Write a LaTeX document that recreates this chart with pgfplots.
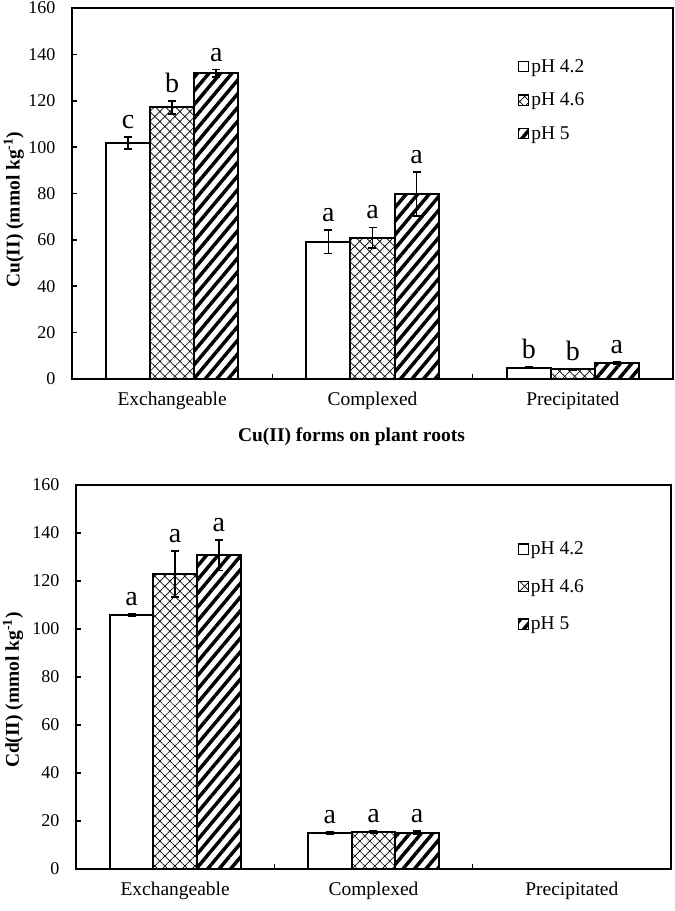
\documentclass[border=0pt]{standalone}
\usepackage{fontspec}
\setmainfont{Liberation Serif}
\usepackage{pgfplots}
\usepackage{pgfplotstable}
\pgfplotsset{compat=1.18}
\usetikzlibrary{patterns.meta}

% x = category (0 Exchangeable, 1 Complexed, 2 Precipitated), e = error, l = letter
\pgfplotstableread{
x y e l
0 101.8 2.5 c
1 59.2 5.0 a
2 4.9 0.3 b
}\cuA
\pgfplotstableread{
x y e l
0 117.1 2.8 b
1 60.9 4.5 a
2 4.2 0.3 b
}\cuB
\pgfplotstableread{
x y e l
0 131.8 1.6 a
1 79.8 9.5 a
2 7.0 0.5 a
}\cuC
\pgfplotstableread{
x y e l
0 105.8 0.5 a
1 14.9 0.5 a
}\cdA
\pgfplotstableread{
x y e l
0 122.9 9.6 a
1 15.5 0.4 a
}\cdB
\pgfplotstableread{
x y e l
0 130.7 6.4 a
1 15.2 0.6 a
}\cdC

\pgfplotsset{
  panel/.style={
    scale only axis,
    xmin=-0.5, xmax=2.5, ymin=0, ymax=160,
    ytick={0,20,...,160},
    xtick={0,1,2},
    xticklabels={Exchangeable,Complexed,Precipitated},
    minor xtick={0.5,1.5},
    major x tick style={draw=none},
    tick align=inside,
    major tick length=4pt, minor tick length=4pt,
    xtick pos=bottom, ytick pos=left,
    axis line style={line width=1.5pt},
    tick style={line width=1.2pt, black},
    /pgf/number format/assume math mode=true,
    yticklabel style={font=\fontsize{13.5}{15}\selectfont, xshift=-9pt},
    xticklabel style={font=\fontsize{14.6}{16}\selectfont, yshift=-6pt},
    legend cell align=left,
    legend style={draw=none, fill=none, at={(0.735,0.87)}, anchor=north west,
      row sep=14pt, font=\fontsize{14.6}{16}\selectfont,
      nodes={inner xsep=1.5pt, inner ysep=0pt}},
  },
  mybar/.style={
    ybar, bar width=0.22, bar shift=0pt, draw=black, line width=1.5pt, mark=none,
    error bars/.cd, y dir=both, y explicit,
    error bar style={line width=1.2pt, black},
    error mark options={rotate=90, mark size=3pt, line width=1.2pt, black},
    /pgfplots/.cd,
    legend image code/.code={\draw[##1, line width=1pt] (0pt,-3.8pt) rectangle (7.5pt,3.8pt);},
  },
  letters/.style={
    draw=none, mark=none, forget plot,
    nodes near coords, point meta=explicit symbolic,
    nodes near coords style={anchor=south, inner sep=2pt, yshift=4pt, black,
      font=\fontsize{21}{23}\selectfont},
  },
  fillA/.style={fill=white},
  fillB/.style={pattern={Hatch[angle=45,distance=5.3pt,line width=0.5pt]}},
  fillC/.style={pattern={Lines[angle=50,distance=6.6pt,line width=2.6pt]}},
}

\begin{document}
\begin{tikzpicture}
\useasboundingbox (0,0) rectangle (506.25pt,683.25pt);

% ---- Cu(II) ----
\begin{axis}[panel,
  at={(54pt,399pt)}, anchor=south west,
  width=450.75pt, height=278.25pt,
  xlabel={\bfseries Cu(II) forms on plant roots},
  xlabel style={at={(axis description cs:0.465,0)}, anchor=center, yshift=-43.5pt,
    font=\fontsize{14.6}{16}\selectfont},
  ylabel={\bfseries Cu(II) (mmol kg\textsuperscript{-1})},
  ylabel style={at={(axis description cs:-0.097,0.457)}, anchor=center,
    font=\fontsize{14.6}{16}\selectfont},
]
\addplot[mybar, fillA] table[x expr=\thisrow{x}-0.22, y=y, y error=e] {\cuA};
\addplot[mybar, fillB] table[x expr=\thisrow{x}, y=y, y error=e] {\cuB};
\addplot[mybar, fillC] table[x expr=\thisrow{x}+0.22, y=y, y error=e] {\cuC};
\addplot[letters] table[x expr=\thisrow{x}-0.22, y expr=\thisrow{y}+\thisrow{e}, meta=l] {\cuA};
\addplot[letters] table[x expr=\thisrow{x}, y expr=\thisrow{y}+\thisrow{e}, meta=l] {\cuB};
\addplot[letters] table[x expr=\thisrow{x}+0.22, y expr=\thisrow{y}+\thisrow{e}, meta=l] {\cuC};
\legend{pH 4.2, pH 4.6, pH 5}
\end{axis}

% ---- Cd(II) ----
\begin{axis}[panel,
  at={(57pt,31.5pt)}, anchor=south west,
  width=446.25pt, height=288pt,
  ylabel={\bfseries Cd(II) (mmol kg\textsuperscript{-1})},
  ylabel style={at={(axis description cs:-0.106,0.466)}, anchor=center,
    font=\fontsize{14.6}{16}\selectfont},
  legend style={at={(0.735,0.86)}, row sep=17pt},
]
\addplot[mybar, fillA] table[x expr=\thisrow{x}-0.22, y=y, y error=e] {\cdA};
\addplot[mybar, fillB] table[x expr=\thisrow{x}, y=y, y error=e] {\cdB};
\addplot[mybar, fillC] table[x expr=\thisrow{x}+0.22, y=y, y error=e] {\cdC};
\addplot[letters] table[x expr=\thisrow{x}-0.22, y expr=\thisrow{y}+\thisrow{e}, meta=l] {\cdA};
\addplot[letters] table[x expr=\thisrow{x}, y expr=\thisrow{y}+\thisrow{e}, meta=l] {\cdB};
\addplot[letters] table[x expr=\thisrow{x}+0.22, y expr=\thisrow{y}+\thisrow{e}, meta=l] {\cdC};
\legend{pH 4.2, pH 4.6, pH 5}
\end{axis}
\end{tikzpicture}
\end{document}
